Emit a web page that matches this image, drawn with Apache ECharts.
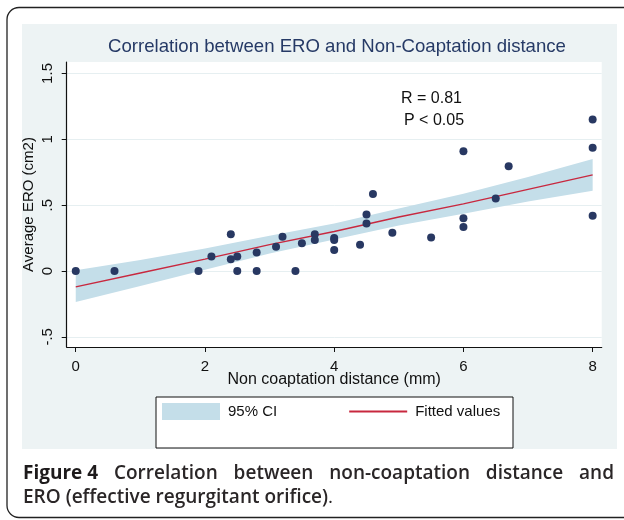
<!DOCTYPE html>
<html>
<head>
<meta charset="utf-8">
<script src="https://cdn.jsdelivr.net/npm/echarts@6/dist/echarts.min.js"></script>
<style>
  html, body { margin: 0; padding: 0; background: #fff; }
  #wrap { position: relative; width: 624px; height: 520px; }
  #chart { position: absolute; left: 0; top: 0; width: 624px; height: 520px; }
  #caption {
    position: absolute; left: 23px; top: 460px; width: 591px;
    font-family: "Open Sans", sans-serif; font-size: 19px; line-height: 24px;
    color: #2a2627; font-weight: 600;
  }
  #caption .l1 { text-align: justify; text-align-last: justify; white-space: nowrap; }
  #caption b { font-weight: 700; color: #1d1a1b; display: inline-block; }
  #caption .dot { font-weight: 400; }
</style>
</head>
<body>
<div id="wrap">
  <div id="chart"></div>
  <div id="caption">
    <div class="l1"><b>Figure 4</b> Correlation between non-coaptation distance and</div>
    <div>ERO (effective regurgitant orifice)<span class="dot">.</span></div>
  </div>
</div>
<script>
  // scatter points: non coaptation distance (mm) vs average ERO (cm2)
  var distX = [0, 0.6, 1.9, 2.1, 2.4, 2.4, 2.5, 2.5, 2.8, 2.8, 3.1, 3.2, 3.4, 3.5, 3.7, 3.7,
               4, 4, 4, 4.4, 4.5, 4.5, 4.6, 4.9, 5.5, 6, 6, 6, 6.5, 6.7, 8, 8, 8]
  var eroY = [0, 0, 0, 0.11, 0.28, 0.09, 0.11, 0, 0.14, 0, 0.185, 0.26, 0, 0.21, 0.28, 0.235,
              0.25, 0.235, 0.16, 0.2, 0.43, 0.36, 0.585, 0.29, 0.255, 0.91, 0.4, 0.335, 0.55, 0.795, 1.15, 0.935, 0.42]

  // fitted values and 95% CI
  var fitX = [0, 1, 2, 3, 4, 5, 6, 7, 8]
  var fitY = [-0.12, -0.015, 0.09, 0.2, 0.3, 0.41, 0.51, 0.62, 0.73]
  var ciLow = [-0.235, -0.114, 0.009, 0.133, 0.24, 0.346, 0.434, 0.527, 0.61]
  var ciHigh = [0.005, 0.084, 0.171, 0.267, 0.36, 0.474, 0.586, 0.713, 0.85]

  var xTicks = [0, 2, 4, 6, 8]
  var yTicks = [-0.5, 0, 0.5, 1, 1.5]

  var ciColor = '#c4dee9'
  var fitColor = '#c8283f'
  var dotColor = '#283862'

  var chart = echarts.init(document.getElementById('chart'))

  function stataNum(v) {
    return String(v).replace('0.', '.')
  }

  // one polygon for the whole band: upper edge left->right, lower edge back
  function renderBand(params, api) {
    if (params.dataIndexInside !== 0) return
    var n = params.dataInsideLength
    var top = [], bottom = []
    for (var j = 0; j < n; j++) {
      top.push(api.coord([api.value(0, j), api.value(2, j)]))
      bottom.unshift(api.coord([api.value(0, j), api.value(1, j)]))
    }
    return {
      type: 'polygon',
      shape: { points: top.concat(bottom) },
      style: { fill: ciColor }
    }
  }

  chart.setOption({
    animation: false,
    backgroundColor: 'transparent',
    textStyle: { fontFamily: 'Liberation Sans' },
    title: {
      text: 'Correlation between ERO and Non-Coaptation distance',
      left: 337,
      top: 37,
      textAlign: 'center',
      padding: 0,
      textStyle: { color: '#263a66', fontSize: 18.6, fontWeight: 'normal', fontFamily: 'Liberation Sans' }
    },
    graphic: [
      {
        type: 'rect', z: -10,
        shape: { x: 7, y: 7.5, width: 640, height: 510, r: 12 },
        style: { fill: '#fff', stroke: '#222', lineWidth: 1.3 }
      },
      {
        type: 'rect', z: -9,
        shape: { x: 22, y: 24, width: 595, height: 425 },
        style: { fill: '#edf3f4' }
      },
      {
        type: 'rect', z: 1,
        shape: { x: 156, y: 397, width: 357, height: 51 },
        style: { fill: '#fff', stroke: '#111', lineWidth: 1 }
      },
      {
        type: 'text', z: 5, left: 401, top: 91,
        style: { text: 'R = 0.81', fill: '#111', font: '16px "Liberation Sans"' }
      },
      {
        type: 'text', z: 5, left: 404, top: 113,
        style: { text: 'P < 0.05', fill: '#111', font: '16px "Liberation Sans"' }
      }
    ],
    legend: {
      left: 162,
      top: 403,
      padding: 0,
      itemWidth: 58,
      itemHeight: 17,
      itemGap: 71,
      selectedMode: false,
      textStyle: { fontSize: 15, color: '#111', padding: [0, 0, 0, 3] },
      data: [
        { name: '95% CI', icon: 'rect', itemStyle: { color: ciColor } },
        { name: 'Fitted values', itemStyle: { opacity: 0 } }
      ]
    },
    grid: {
      left: 66.7,
      right: 22.3,
      top: 62,
      bottom: 173,
      show: true,
      backgroundColor: '#fff',
      borderWidth: 0
    },
    xAxis: {
      type: 'value',
      min: -0.14,
      max: 8.14,
      name: 'Non coaptation distance (mm)',
      nameLocation: 'middle',
      nameGap: 25,
      nameMoveOverlap: false,
      nameTextStyle: { fontSize: 16, color: '#111' },
      axisLine: { onZero: false, lineStyle: { color: '#111', width: 1.2 } },
      axisTick: { length: 5, customValues: xTicks, lineStyle: { color: '#111' } },
      axisLabel: { customValues: xTicks, fontSize: 15, color: '#111', margin: 12 },
      splitLine: { show: false }
    },
    yAxis: {
      type: 'value',
      min: -0.577,
      max: 1.587,
      name: 'Average ERO (cm2)',
      nameLocation: 'middle',
      nameRotate: 90,
      nameGap: 30,
      nameMoveOverlap: false,
      nameTextStyle: { fontSize: 15, color: '#111' },
      axisLine: { show: true, onZero: false, lineStyle: { color: '#111', width: 1.2 } },
      axisTick: { show: true, length: 5, customValues: yTicks, lineStyle: { color: '#111' } },
      axisLabel: { customValues: yTicks, rotate: 90, fontSize: 15, color: '#111', margin: 11, formatter: stataNum },
      splitLine: { show: true, lineStyle: { color: '#e6eff1', width: 1 } }
    },
    series: [
      {
        name: '95% CI',
        type: 'custom',
        renderItem: renderBand,
        color: ciColor,
        silent: true,
        clip: true,
        encode: { x: 0, y: [1, 2] },
        data: fitX.map(function (x, i) { return [x, ciLow[i], ciHigh[i]] }),
        z: 1
      },
      {
        name: 'Fitted values',
        type: 'line',
        symbol: 'none',
        color: fitColor,
        lineStyle: { color: fitColor, width: 1.4 },
        data: fitX.map(function (x, i) { return [x, fitY[i]] }),
        z: 3
      },
      {
        name: 'points',
        type: 'scatter',
        symbolSize: 8,
        itemStyle: { color: dotColor, opacity: 1 },
        data: distX.map(function (x, i) { return [x, eroY[i]] }),
        z: 4
      }
    ]
  })
</script>
</body>
</html>
